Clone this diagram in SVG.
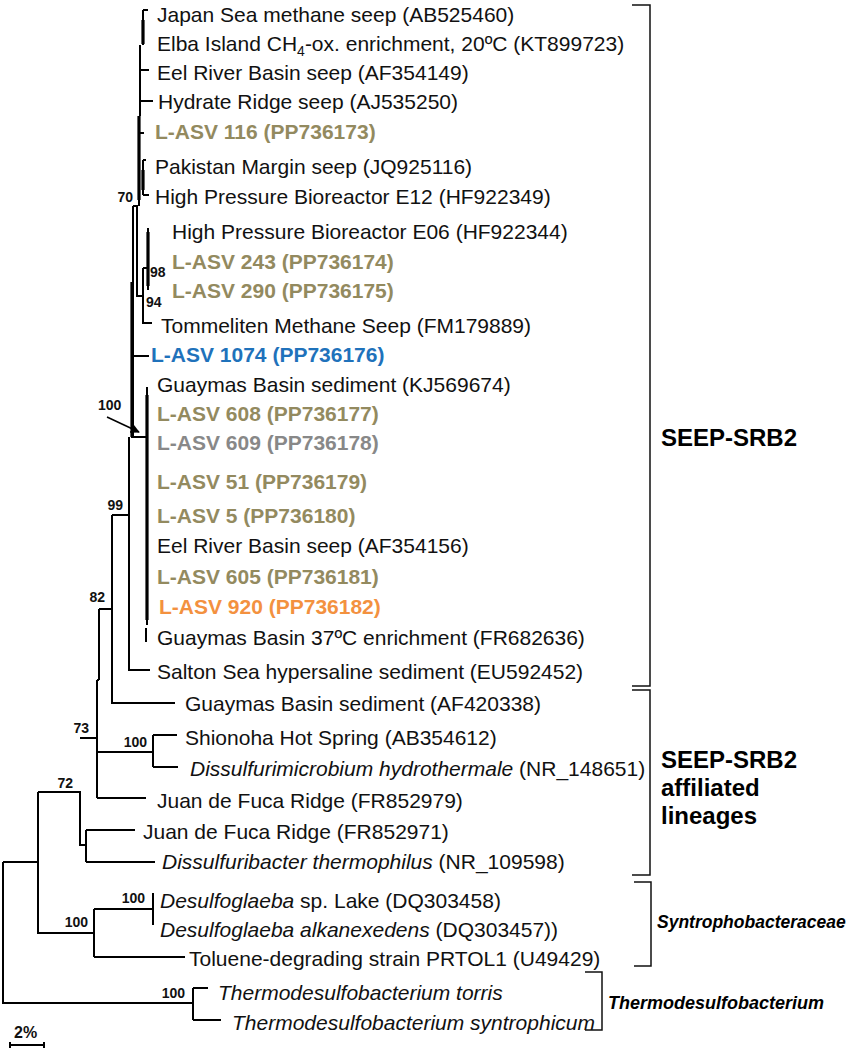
<svg xmlns="http://www.w3.org/2000/svg" width="851" height="1048" viewBox="0 0 851 1048">
<defs>
<style>
.t{font-family:"Liberation Sans",Arial,Helvetica,sans-serif;font-size:21px;fill:#111}
.b{font-weight:bold}
.i{font-style:italic}
.ol{fill:#938a5f;font-weight:bold}
.bl{fill:#1f72bb;font-weight:bold}
.gr{fill:#888888;font-weight:bold}
.or{fill:#f3913f;font-weight:bold}
.bs{font-family:"Liberation Sans",Arial,sans-serif;font-size:14px;font-weight:bold;fill:#111}
.grp{font-family:"Liberation Sans",Arial,sans-serif;font-size:24px;font-weight:bold;fill:#000}
.grpi{font-family:"Liberation Sans",Arial,sans-serif;font-size:17.5px;font-weight:bold;font-style:italic;fill:#000}
.ln{stroke:#000;stroke-width:2;fill:none}
.th{stroke:#000;stroke-width:3.2;fill:none}
.bk{stroke:#111;stroke-width:1.5;fill:none}
</style>
<marker id="ah" viewBox="0 0 10 10" refX="9" refY="5" markerWidth="6" markerHeight="6" orient="auto">
<path d="M0,0 L10,5 L0,10 z" fill="#000"/>
</marker>
</defs>
<rect width="851" height="1048" fill="#fff"/>

<g id="connectors">
<path class="ln" d="M143,10 H148 M143,10 V45 M140,45 V116 M140,70 H149 M140,101 H153 M139,116 V206 M139,133 H144 M143,160 V195 M143,160 H146 M143,195 H149"/>
<path class="th" d="M143,20 V44 M139,116 V200 M143,170 V190"/>
<path class="ln" d="M133,206 H137 V297 M133,206 V437 M137,296 H143 M143,268 V323 H152 M143,268 H148 M148,228 V290 M133,356 H149"/>
<path class="th" d="M132,282 V437 M148,232 V286"/>
<path class="ln" d="M131,437 H147 M147,387 V625 M146,628 V642"/>
<path class="th" d="M147,395 V620"/>
<path class="ln" d="M112,515 H129 M129,437 V670 H150 M99,609 H112 M112,515 V703 H175 M99,609 V680 M97,680 V798 M97,680 H99"/>
<path class="ln" d="M80,738 H97 M97,752 H153 M153,735 V767 M153,735 H177 M153,767 H178 M97,798 H146"/>
<path class="ln" d="M38,792 H80 V845 H86 M86,830 V862 M86,830 H135 M86,862 H155"/>
<path class="ln" d="M38,792 V933 H94 M3,862 H38 M94,909 V957 M94,909 H153 M94,957 H185 M153,893 V925"/>
<path class="ln" d="M3,862 V1003 H193 M193,988 V1020 M193,988 H208 M193,1020 H221"/>
<line x1="107" y1="417" x2="139" y2="432" stroke="#000" stroke-width="1.5" marker-end="url(#ah)"/>
</g>

<g id="scale">
<text class="bs" x="14" y="1038" style="font-size:16px">2%</text>
<path class="ln" d="M10,1045 H44 M10,1042 V1048 M44,1042 V1048"/>
</g>

<g id="bootstrap">
<text class="bs" x="133" y="202" text-anchor="end">70</text>
<text class="bs" x="150" y="277">98</text>
<text class="bs" x="146" y="307">94</text>
<text class="bs" x="98" y="410">100</text>
<text class="bs" x="123" y="510" text-anchor="end">99</text>
<text class="bs" x="105" y="602" text-anchor="end">82</text>
<text class="bs" x="89" y="733" text-anchor="end">73</text>
<text class="bs" x="147" y="747" text-anchor="end">100</text>
<text class="bs" x="73" y="788" text-anchor="end">72</text>
<text class="bs" x="145" y="903" text-anchor="end">100</text>
<text class="bs" x="88" y="927" text-anchor="end">100</text>
<text class="bs" x="185" y="998" text-anchor="end">100</text>
</g>

<g id="tips">
<text id="n1" class="t" x="157" y="21.5">Japan Sea methane seep (AB525460)</text>
<text id="n2" class="t" x="157" y="50.5">Elba Island CH<tspan dy="5" font-size="14">4</tspan><tspan dy="-5">-ox. enrichment, 20ºC (KT899723)</tspan></text>
<text id="n3" class="t" x="157" y="79.5">Eel River Basin seep (AF354149)</text>
<text id="n4" class="t" x="158" y="108.5">Hydrate Ridge seep (AJ535250)</text>
<text id="n5" class="t ol" x="155" y="138.5">L-ASV 116 (PP736173)</text>
<text id="n6" class="t" x="155" y="173.5">Pakistan Margin seep (JQ925116)</text>
<text id="n7" class="t" x="155" y="203.5">High Pressure Bioreactor E12 (HF922349)</text>
<text id="n8" class="t" x="172" y="238.5">High Pressure Bioreactor E06 (HF922344)</text>
<text id="n9" class="t ol" x="172" y="268.5">L-ASV 243 (PP736174)</text>
<text id="n10" class="t ol" x="172" y="297.5">L-ASV 290 (PP736175)</text>
<text id="n11" class="t" x="161" y="332.5">Tommeliten Methane Seep (FM179889)</text>
<text id="n12" class="t bl" x="151" y="361.5">L-ASV 1074 (PP736176)</text>
<text id="n13" class="t" x="157" y="391.5">Guaymas Basin sediment (KJ569674)</text>
<text id="n14" class="t ol" x="157" y="420.5">L-ASV 608 (PP736177)</text>
<text id="n15" class="t gr" x="157" y="449.5">L-ASV 609 (PP736178)</text>
<text id="n16" class="t ol" x="157" y="488.5">L-ASV 51 (PP736179)</text>
<text id="n17" class="t ol" x="157" y="522.5">L-ASV 5 (PP736180)</text>
<text id="n18" class="t" x="157" y="552.5">Eel River Basin seep (AF354156)</text>
<text id="n19" class="t ol" x="157" y="583.5">L-ASV 605 (PP736181)</text>
<text id="n20" class="t or" x="159" y="613.5">L-ASV 920 (PP736182)</text>
<text id="n21" class="t" x="157" y="644.5">Guaymas Basin 37ºC enrichment (FR682636)</text>
<text id="n22" class="t" x="157" y="678.5">Salton Sea hypersaline sediment (EU592452)</text>
<text id="n23" class="t" x="185" y="710.5">Guaymas Basin sediment (AF420338)</text>
<text id="n24" class="t" x="185" y="744.5">Shionoha Hot Spring (AB354612)</text>
<text id="n25" class="t" x="190" y="775.5"><tspan class="i">Dissulfurimicrobium hydrothermale</tspan> (NR_148651)</text>
<text id="n26" class="t" x="157" y="807.5">Juan de Fuca Ridge (FR852979)</text>
<text id="n27" class="t" x="143" y="838.5">Juan de Fuca Ridge (FR852971)</text>
<text id="n28" class="t" x="162" y="868.5"><tspan class="i">Dissulfuribacter thermophilus</tspan> (NR_109598)</text>
<text id="n29" class="t" x="160" y="907.5"><tspan class="i">Desulfoglaeba</tspan> sp. Lake (DQ303458)</text>
<text id="n30" class="t" x="160" y="936.5"><tspan class="i">Desulfoglaeba alkanexedens</tspan> (DQ303457))</text>
<text id="n31" class="t" x="189" y="965.5">Toluene-degrading strain PRTOL1 (U49429)</text>
<text id="n32" class="t i" x="218" y="999.5">Thermodesulfobacterium torris</text>
<text id="n33" class="t i" x="232" y="1029.5">Thermodesulfobacterium syntrophicum</text>
</g>

<g id="groups">
<path class="bk" d="M632,5 H650 V686 H632"/>
<text class="grp" x="661" y="446">SEEP-SRB2</text>
<path class="bk" d="M632,690 H650 V875 H632"/>
<text class="grp" x="661" y="768">SEEP-SRB2</text>
<text class="grp" x="661" y="796">affiliated</text>
<text class="grp" x="661" y="824">lineages</text>
<path class="bk" d="M634,882 H651 V966 H634"/>
<text class="grpi" x="657" y="928">Syntrophobacteraceae</text>
<path class="bk" d="M585,972 H602 V1030 H585"/>
<text class="grpi" x="608" y="1009" style="font-size:18px">Thermodesulfobacterium</text>
</g>
</svg>
